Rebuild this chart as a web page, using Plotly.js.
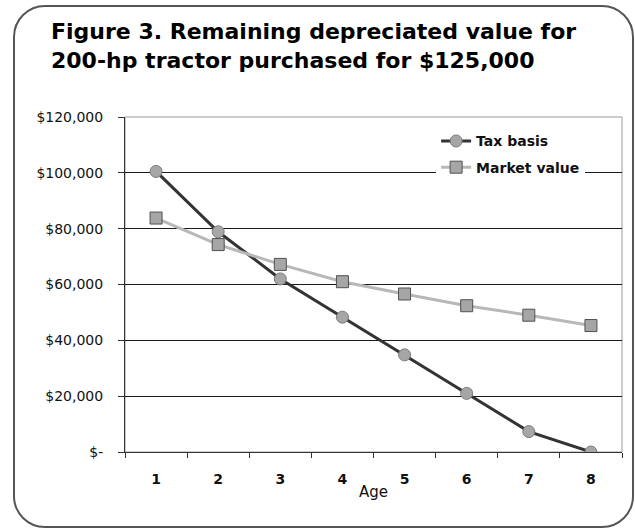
<!DOCTYPE html>
<html>
<head>
<meta charset="utf-8">
<script src="https://cdn.plot.ly/plotly-3.0.1.min.js"></script>
<style>
  html, body { margin: 0; padding: 0; background: #ffffff; }
  #wrap { position: relative; width: 635px; height: 531px; }
  #frame { position: absolute; left: 13px; top: 5px; width: 617px; height: 519px;
           border: 2px solid #555555; border-radius: 32px; pointer-events: none; z-index: 5; }
  #chart { position: absolute; left: 0; top: 0; width: 635px; height: 531px; }
</style>
</head>
<body>
<div id="wrap">
  <div id="chart"></div>
  <div id="frame"></div>
</div>
<script>
// Data
const ages = ["1", "2", "3", "4", "5", "6", "7", "8"];
const taxBasis = [100500, 78900, 62000, 48300, 34800, 21000, 7300, 0];
const marketValue = [83800, 74300, 67200, 61000, 56600, 52400, 49000, 45300];
const yTickValues = [0, 20000, 40000, 60000, 80000, 100000, 120000];
const yTickLabels = ["$-", "$20,000", "$40,000", "$60,000", "$80,000", "$100,000", "$120,000"];
const seriesNames = ["Tax basis", "Market value"];
const titleText = "Figure 3. Remaining depreciated value for<br>200-hp tractor purchased for $125,000";

const FONT = "DejaVu Sans, Liberation Sans, Arial, sans-serif";

const traces = [
  {
    x: ages, y: taxBasis, name: seriesNames[0], type: "scatter", mode: "lines+markers",
    legendgroup: "a",
    line: { color: "#333333", width: 3 },
    marker: { symbol: "circle", size: 12, color: "#a6a6a6", line: { color: "#7a7a7a", width: 1 } }
  },
  {
    x: ages, y: marketValue, name: seriesNames[1], type: "scatter", mode: "lines+markers",
    legendgroup: "b",
    line: { color: "#b8b8b8", width: 3 },
    marker: { symbol: "square", size: 12, color: "#a6a6a6", line: { color: "#505050", width: 1 } }
  }
];

const layout = {
  width: 635, height: 531,
  paper_bgcolor: "#ffffff", plot_bgcolor: "#ffffff",
  margin: { l: 125, r: 13, t: 117, b: 79, pad: 0 },
  showlegend: true,
  title: {
    text: titleText,
    font: { family: FONT, size: 22, color: "#000000", weight: "bold" },
    xref: "container", x: 51 / 635, xanchor: "left",
    yref: "container", y: 1 - 39 / 531, yanchor: "top"
  },
  xaxis: {
    type: "category",
    range: [-0.5, 7.5],
    showgrid: false, zeroline: false,
    showline: true, linecolor: "#333333", linewidth: 1,
    ticks: "outside", ticklen: 5, tickcolor: "#333333", tickwidth: 1,
    tickson: "boundaries",
    ticklabelstandoff: 14,
    tickfont: { family: FONT, size: 14, color: "#111111", weight: "bold" },
    title: { text: "Age", font: { family: FONT, size: 15, color: "#111111" }, standoff: 0 },
    fixedrange: true
  },
  yaxis: {
    range: [0, 120000],
    tickvals: yTickValues, ticktext: yTickLabels,
    showgrid: true, gridcolor: "#1a1a1a", gridwidth: 1,
    zeroline: false,
    showline: true, linecolor: "#333333", linewidth: 1,
    ticks: "outside", ticklen: 6, tickcolor: "#333333", tickwidth: 1,
    ticklabelstandoff: 12,
    tickfont: { family: FONT, size: 14, color: "#111111" },
    fixedrange: true
  },
  shapes: [
    { type: "rect", xref: "paper", yref: "paper", x0: 0, x1: 1, y0: 0, y1: 1,
      line: { color: "#9a9a9a", width: 1 }, layer: "below" }
  ],
  legend: {
    x: 0.626, xanchor: "left", y: 0.975, yanchor: "top",
    bgcolor: "#ffffff", borderwidth: 0,
    traceorder: "grouped", tracegroupgap: 5,
    font: { family: FONT, size: 14, color: "#111111", weight: "bold" }
  }
};

Plotly.newPlot("chart", traces, layout, { displayModeBar: false, staticPlot: true });
</script>
</body>
</html>
